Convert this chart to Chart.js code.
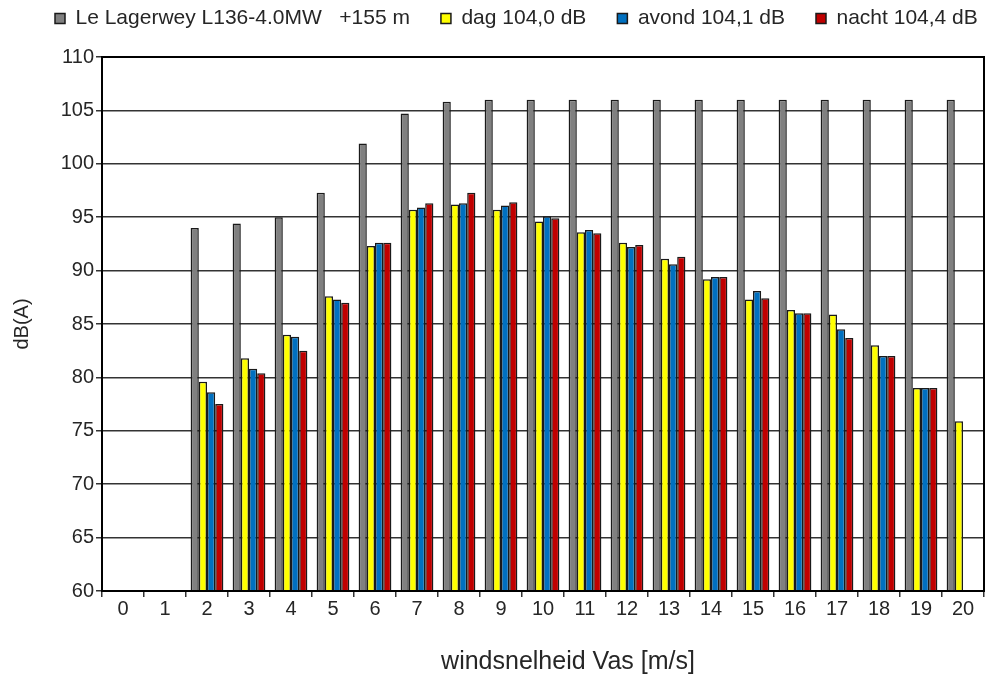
<!DOCTYPE html>
<html>
<head>
<meta charset="utf-8">
<script src="https://cdn.jsdelivr.net/npm/chart.js@4.4.1/dist/chart.umd.min.js"></script>
<style>
  html, body { margin: 0; padding: 0; background: #fff; }
  #wrap { width: 990px; height: 675px; }
</style>
</head>
<body>
<div id="wrap"><canvas id="chart"></canvas></div>
<script>
// windsnelheid 0..20 m/s, geluidvermogen in dB(A)
const WIND = ["0","1","2","3","4","5","6","7","8","9","10","11","12","13","14","15","16","17","18","19","20"];
const LAGERWEY = [null,null,94.0,94.4,95.0,97.3,101.9,104.7,105.8,106.0,106.0,106.0,106.0,106.0,106.0,106.0,106.0,106.0,106.0,106.0,106.0];
const DAG      = [null,null,79.6,81.8,84.0,87.6,92.3,95.7,96.2,95.7,94.6,93.6,92.6,91.1,89.2,87.3,86.3,85.9,83.0,79.0,75.9];
const AVOND    = [null,null,78.6,80.8,83.8,87.3,92.6,95.9,96.3,96.1,95.1,93.8,92.2,90.6,89.4,88.1,86.0,84.5,82.0,79.0,null];
const NACHT    = [null,null,77.5,80.4,82.5,87.0,92.6,96.3,97.3,96.4,94.9,93.5,92.4,91.3,89.4,87.4,86.0,83.7,82.0,79.0,null];
const Y_MIN = 60, Y_MAX = 110, Y_STEP = 5;

const FONT = "'Liberation Sans', Arial, Helvetica, sans-serif";
const TXT = "#262626";

// legend placement (one row, starting left, sitting above the plot)
const LEGEND_X = 55, LEGEND_Y = 8, LEGEND_H = 57;
// x title sits a bit right of the plot centre in the original
const TITLE_DX = 25;

function ds(label, data, color) {
  return { label, data, backgroundColor: color, borderColor: "#1a1a1a", borderWidth: 1.5 };
}

// keep legend on one row at a fixed spot; the stock one wraps and centres
const legendFix = {
  id: "legendFix",
  beforeInit(chart) {
    const lg = chart.legend;
    const fit = lg.fit, draw = lg.draw;
    lg.fit = function () {
      const mw = this.maxWidth;
      this.maxWidth = 5000;
      fit.call(this);
      this.maxWidth = mw;
      this.width = mw;
      this.height = LEGEND_H;
    };
    lg.draw = function () {
      const { left, right, top } = this;
      const pad = this.options.labels.padding;
      this.left = LEGEND_X - pad; this.right = 5000; this.top = LEGEND_Y - pad;
      draw.call(this);
      this.left = left; this.right = right; this.top = top;
    };
  },
};

// nudge the x axis title
const titleShift = {
  id: "titleShift",
  beforeDraw(chart) {
    const s = chart.scales.x;
    if (s._shifted) return;
    const dt = s.drawTitle;
    s.drawTitle = function () {
      this.ctx.save();
      this.ctx.translate(TITLE_DX, 0);
      dt.call(this);
      this.ctx.restore();
    };
    s._shifted = true;
  },
};

// frame round plot area
const frame = {
  id: "frame",
  afterDraw(chart) {
    const { ctx, chartArea: a } = chart;
    ctx.save();
    ctx.strokeStyle = "#000";
    ctx.lineWidth = 2;
    ctx.strokeRect(a.left, a.top, a.right - a.left, a.bottom - a.top);
    ctx.restore();
  },
};

new Chart(document.getElementById("chart"), {
  type: "bar",
  data: {
    labels: WIND,
    datasets: [
      ds("Le Lagerwey L136-4.0MW   +155 m", LAGERWEY, "#808080"),
      ds("dag 104,0 dB", DAG, "#ffff00"),
      ds("avond 104,1 dB", AVOND, "#0070c0"),
      ds("nacht 104,4 dB", NACHT, "#c00000"),
    ],
  },
  options: {
    responsive: true,
    maintainAspectRatio: false,
    animation: false,
    layout: { padding: { left: 10, right: 6, top: 0, bottom: 0 } },
    datasets: { bar: { categoryPercentage: 0.78, barPercentage: 1.0 } },
    plugins: {
      tooltip: { enabled: false },
      legend: {
        position: "top",
        align: "start",
        labels: { color: TXT, font: { family: FONT, size: 21 }, boxWidth: 10, boxHeight: 10, padding: 31 },
      },
    },
    scales: {
      x: {
        grid: { display: true, drawOnChartArea: false, offset: true, tickLength: 6, color: "#333", lineWidth: 1.5 },
        border: { color: "#000", width: 2 },
        ticks: { color: TXT, font: { family: FONT, size: 20 }, padding: 0, maxRotation: 0 },
        title: { display: true, text: "windsnelheid Vas [m/s]", color: TXT, font: { family: FONT, size: 25, lineHeight: 1 }, padding: { top: 29, bottom: 0 } },
      },
      y: {
        min: Y_MIN, max: Y_MAX,
        afterFit(scale) { scale.width = 92; },
        grid: { color: "#333", lineWidth: 1.5, tickLength: 6 },
        border: { color: "#000", width: 2 },
        ticks: { stepSize: Y_STEP, color: TXT, font: { family: FONT, size: 20 }, padding: 2 },
        title: { display: true, text: "dB(A)", color: TXT, font: { family: FONT, size: 20 }, padding: 0 },
      },
    },
  },
  plugins: [legendFix, titleShift, frame],
});
</script>
</body>
</html>
